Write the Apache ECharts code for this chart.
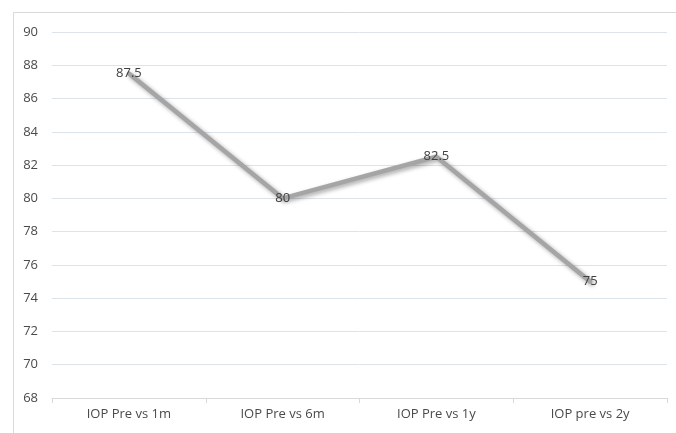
<!DOCTYPE html>
<html><head><meta charset="utf-8">
<script src="https://cdn.jsdelivr.net/npm/echarts@6/dist/echarts.min.js"></script>
<style>html,body{margin:0;padding:0;background:#fff}#c{width:676px;height:433px}</style>
</head><body><div id="c"></div>
<script>
const categories = ["IOP Pre vs 1m", "IOP Pre vs 6m", "IOP Pre vs 1y", "IOP pre vs 2y"];
const values = [87.5, 80, 82.5, 75];
const yTicks = { min: 68, max: 90, interval: 2 };

const chart = echarts.init(document.getElementById('c'), null, { renderer: 'canvas' });
const font = '"Open Sans", "Liberation Sans", sans-serif';
chart.setOption({
  animation: false,
  backgroundColor: '#fff',
  graphic: [{
    type: 'rect', left: 11, top: 10, silent: true,
    shape: { width: 700, height: 440 },
    style: { fill: 'none', stroke: '#d9d9d9', lineWidth: 1 }
  }],
  grid: { left: 52, right: 9, top: 32, bottom: 35 },
  xAxis: {
    type: 'category', data: categories, boundaryGap: true,
    axisLine: { lineStyle: { color: '#d9d9d9', width: 1 } },
    axisTick: { show: true, length: 5, lineStyle: { color: '#d9d9d9' } },
    axisLabel: { color: '#4a4a4a', fontSize: 13, fontFamily: font, margin: 10 }
  },
  yAxis: {
    type: 'value', min: yTicks.min, max: yTicks.max, interval: yTicks.interval,
    axisLine: { show: false }, axisTick: { show: false },
    splitLine: { lineStyle: { color: '#dde3ea', width: 1 } },
    axisLabel: { color: '#4a4a4a', fontSize: 13, fontFamily: font, margin: 14 }
  },
  series: [{
    type: 'line', data: values, symbol: 'circle', symbolSize: 1, showSymbol: true,
    itemStyle: { color: 'rgba(0,0,0,0)' },
    lineStyle: { color: '#a5a5a5', width: 4.5, cap: 'round', join: 'round',
      shadowColor: 'rgba(0,0,0,0.35)', shadowBlur: 4, shadowOffsetX: 2, shadowOffsetY: 2 },
    label: { show: true, position: 'inside', color: '#404040', fontSize: 13, fontFamily: font }
  }]
});
</script></body></html>
